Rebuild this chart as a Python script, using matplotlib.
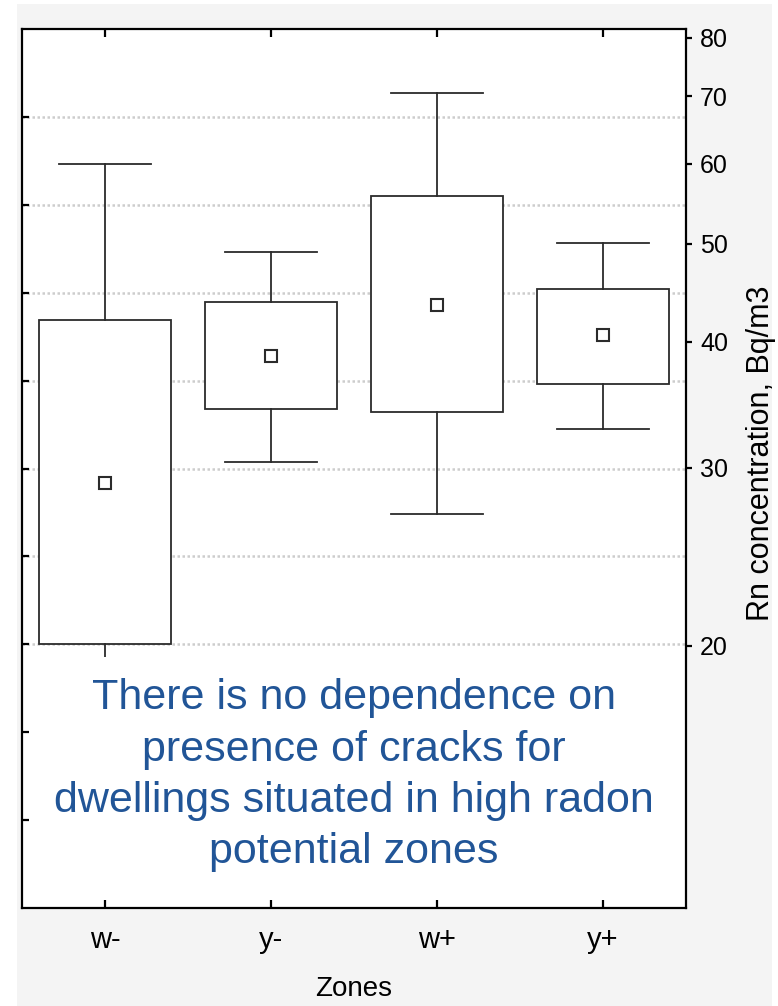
import matplotlib
matplotlib.use('Agg')
import matplotlib.pyplot as plt
from matplotlib.patches import Rectangle
from matplotlib.ticker import FixedLocator, NullLocator, FixedFormatter, NullFormatter

# ---- data ----
zones = ['w-', 'y-', 'w+', 'y+']
means = [29.0, 38.7, 43.5, 40.6]
box_low = [20.1, 34.3, 34.1, 36.3]
box_high = [42.0, 43.8, 55.7, 45.1]
whisker_low = [14.5, 30.4, 27.0, 32.8]
whisker_high = [60.0, 49.1, 70.6, 50.1]
y_ticks = [20, 30, 40, 50, 60, 70, 80]
y_tick_labels = ['20', '30', '40', '50', '60', '70', '80']
note = ("There is no dependence on\npresence of cracks for\n"
        "dwellings situated in high radon\npotential zones")

plt.rcParams['font.family'] = ['Liberation Sans', 'DejaVu Sans']

W, H = 778, 1006
fig = plt.figure(figsize=(W / 100, H / 100), dpi=100, facecolor='white')
fig.patches.append(Rectangle((17 / W, 0), (772 - 17) / W, 1 - 4 / H,
                             transform=fig.transFigure, facecolor='#f4f4f4',
                             edgecolor='none', zorder=-10))

pos = [22 / W, 1 - 908 / H, (686 - 22) / W, (908 - 29) / H]

# helper axes: left inner ticks and dotted grid (Statistica style)
ax_bg = fig.add_axes(pos)
ax_bg.set_zorder(1)
ax_bg.set_xlim(0, 1)
ax_bg.set_ylim(0, 1)
ax_bg.set_facecolor('white')
ax_bg.set_xticks([])
ax_bg.set_yticks([i / 10 for i in range(1, 10)])
ax_bg.yaxis.set_major_formatter(NullFormatter())
ax_bg.tick_params(axis='y', direction='in', length=5, width=1.6, color='black',
                  left=True, right=False)
for i in range(3, 10):
    ax_bg.axhline(i / 10, color='#cdcdcd', lw=1.8, ls=(0, (1, 1)), zorder=0)
for s in ax_bg.spines.values():
    s.set_visible(False)

ax = fig.add_axes(pos)
ax.set_zorder(2)
ax.set_facecolor('none')
ax.set_yscale('log')
ax.set_ylim(11.0, 81.6)
ax.set_xlim(-0.5, 3.5)

stats = []
for m, lo, hi, wl, wh in zip(means, box_low, box_high, whisker_low, whisker_high):
    stats.append(dict(med=m, q1=lo, q3=hi, whislo=wl, whishi=wh, mean=m, fliers=[]))

lc = '#2b2b2b'
ax.bxp(stats, positions=range(len(zones)), widths=0.8, capwidths=0.56,
       showmeans=True, patch_artist=True, manage_ticks=False,
       boxprops=dict(facecolor='white', edgecolor=lc, linewidth=1.3),
       whiskerprops=dict(color=lc, linewidth=1.3),
       capprops=dict(color=lc, linewidth=1.3),
       medianprops=dict(linewidth=0),
       meanprops=dict(marker='s', markerfacecolor='white', markeredgecolor=lc,
                      markersize=8, markeredgewidth=1.5))

# white panel behind the note
ax.add_patch(Rectangle((0.012, 0.04), 0.976, 0.2456, transform=ax.transAxes,
                       facecolor='white', edgecolor='none', zorder=5))
ax.text(0.5, 0.151, note, transform=ax.transAxes, ha='center', va='center',
        fontsize=31, color='#215597', linespacing=1.37, zorder=6)

ax.set_xticks(range(len(zones)))
ax.set_xticklabels(zones)
ax.tick_params(axis='x', direction='in', length=6, width=1.6, top=True, bottom=True,
               labelsize=21, pad=13)

ax.yaxis.tick_right()
ax.yaxis.set_major_locator(FixedLocator(y_ticks))
ax.yaxis.set_major_formatter(FixedFormatter(y_tick_labels))
ax.yaxis.set_minor_locator(NullLocator())
ax.yaxis.set_minor_formatter(NullFormatter())
ax.tick_params(axis='y', direction='out', length=4, width=1.6, labelsize=18, pad=6,
               left=False, right=True)

ax.yaxis.set_label_position('right')
ax.set_ylabel('Rn concentration, Bq/m3', fontsize=22)
ax.yaxis.set_label_coords(1.090, 0.5176)
ax.set_xlabel('Zones', fontsize=20, labelpad=16)

for s in ax.spines.values():
    s.set_linewidth(1.6)
    s.set_color('black')

fig.savefig('out.png', dpi=100, facecolor=fig.get_facecolor())
